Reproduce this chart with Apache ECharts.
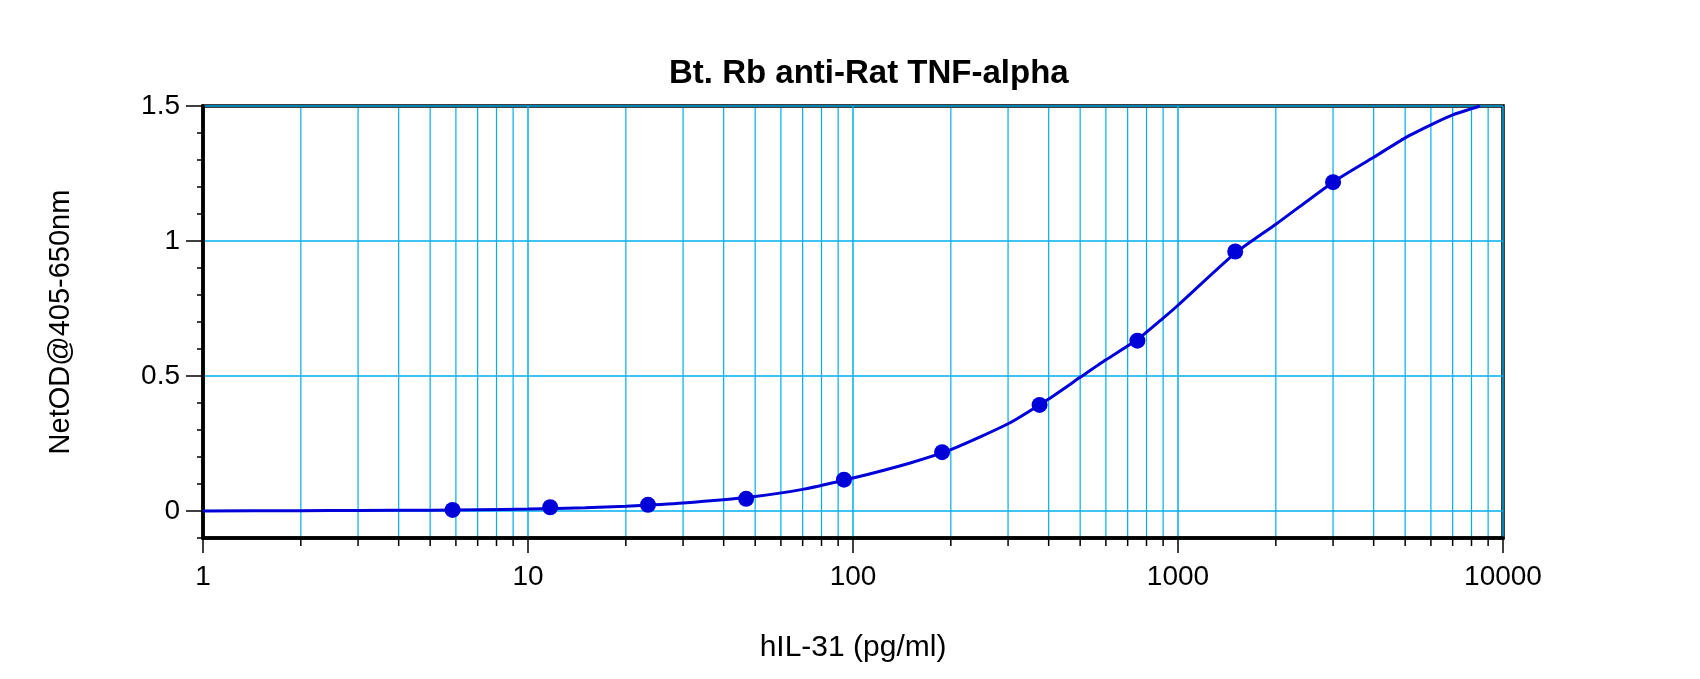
<!DOCTYPE html>
<html>
<head>
<meta charset="utf-8">
<title>Bt. Rb anti-Rat TNF-alpha</title>
<script src="https://cdn.jsdelivr.net/npm/echarts@6/dist/echarts.min.js"></script>
<style>
  html, body { margin: 0; padding: 0; background: #fff; }
  #chart { width: 1700px; height: 679px; }
</style>
</head>
<body>
<div id="chart"></div>
<script>
// standards (2-fold dilution)
var standardConc = [5.86, 11.7, 23.4, 46.9, 93.8, 188, 375, 750, 1500, 3000];
var standardOD = [0.004, 0.014, 0.023, 0.045, 0.116, 0.218, 0.393, 0.631, 0.961, 1.218];

// fitted curve
var curveConc = [1, 2, 3, 5, 7, 10, 15, 20, 30, 50, 70, 100, 150, 200, 300, 400, 500, 600, 750, 900, 1000, 1500, 2000, 3000, 4000, 5000, 6000, 7000, 8500];
var curveOD = [0.000, 0.001, 0.002, 0.003, 0.005, 0.007, 0.012, 0.018, 0.030, 0.054, 0.080, 0.122, 0.178, 0.227, 0.323, 0.415, 0.495, 0.560, 0.635, 0.714, 0.762, 0.955, 1.062, 1.218, 1.310, 1.382, 1.430, 1.467, 1.500];

// minor log grid positions
var minorX = [2, 3, 4, 5, 6, 7, 8, 9,
  20, 30, 40, 50, 60, 70, 80, 90,
  200, 300, 400, 500, 600, 700, 800, 900,
  2000, 3000, 4000, 5000, 6000, 7000, 8000, 9000];
var yLabels = [0, 0.5, 1, 1.5];

var Y_MIN = -0.1, Y_MAX = 1.5;
var gridBlue = '#00AEEF';
var curveBlue = '#0000D8';
var font = 'Liberation Sans, Arial, sans-serif';

var chart = echarts.init(document.getElementById('chart'));

function renderMinor(params, api) {
  var v = api.value(0);
  var top = api.coord([v, Y_MAX]);
  var bot = api.coord([v, Y_MIN]);
  return {
    type: 'group',
    children: [
      { type: 'line', shape: { x1: top[0], y1: top[1] + 2, x2: bot[0], y2: bot[1] - 2 }, style: { stroke: gridBlue, lineWidth: 1.2 } },
      { type: 'line', shape: { x1: bot[0], y1: bot[1], x2: bot[0], y2: bot[1] + 8 }, style: { stroke: '#000', lineWidth: 1.5 } }
    ]
  };
}

chart.setOption({
  animation: false,
  backgroundColor: '#fff',
  textStyle: { fontFamily: font, color: '#000' },
  title: {
    text: 'Bt. Rb anti-Rat TNF-alpha',
    left: 664, top: 52,
    textStyle: { fontFamily: font, fontSize: 33, fontWeight: 'bold', color: '#000' }
  },
  grid: { left: 203, right: 197, top: 106, bottom: 141, show: true, borderColor: '#000', borderWidth: 3.5, backgroundColor: 'transparent' },
  xAxis: [{
    type: 'log', logBase: 10, min: 1, max: 10000,
    name: 'hIL-31 (pg/ml)', nameLocation: 'middle', nameGap: 95,
    nameTextStyle: { fontFamily: font, fontSize: 30, color: '#000' },
    axisLine: { show: true, onZero: false, lineStyle: { color: '#000', width: 3.5 } },
    axisTick: { show: true, length: 15, lineStyle: { color: '#000', width: 1.5 } },
    axisLabel: { fontSize: 28, color: '#000', margin: 25, formatter: function(v) { return String(v); } },
    splitLine: { show: true, lineStyle: { color: gridBlue, width: 1.5 } }
  }],
  yAxis: [{
    type: 'value', min: Y_MIN, max: Y_MAX, position: 'left',
    minInterval: 0.5, maxInterval: 0.5,
    name: 'NetOD@405-650nm', nameLocation: 'middle', nameGap: 128,
    nameTextStyle: { fontFamily: font, fontSize: 29, color: '#000' },
    axisLine: { show: true, onZero: false, lineStyle: { color: '#000', width: 3.5 } },
    axisTick: { show: true, length: 17, customValues: yLabels, lineStyle: { color: '#000', width: 1.5 } },
    axisLabel: { fontSize: 28, color: '#000', margin: 23, customValues: yLabels },
    splitLine: { show: true, lineStyle: { color: gridBlue, width: 1.5 } }
  }, {
    type: 'value', min: Y_MIN, max: Y_MAX, interval: 0.1, position: 'left', offset: 0,
    axisLine: { show: false, onZero: false },
    axisTick: { show: true, length: 6, lineStyle: { color: '#000', width: 1.5 } },
    axisLabel: { show: false },
    splitLine: { show: false }
  }],
  series: [{
    type: 'custom',
    z: 1,
    silent: true,
    renderItem: renderMinor,
    data: minorX.map(function(v) { return [v, 0]; })
  }, {
    name: 'fit',
    type: 'line',
    z: 3,
    smooth: 0.2,
    showSymbol: false,
    lineStyle: { color: curveBlue, width: 3 },
    data: curveConc.map(function(c, i) { return [c, curveOD[i]]; })
  }, {
    name: 'standards',
    type: 'scatter',
    z: 4,
    symbol: 'circle',
    symbolSize: 16,
    itemStyle: { color: curveBlue, opacity: 1 },
    data: standardConc.map(function(c, i) { return [c, standardOD[i]]; })
  }]
});
window.addEventListener('resize', function() { chart.resize(); });
</script>
</body>
</html>
